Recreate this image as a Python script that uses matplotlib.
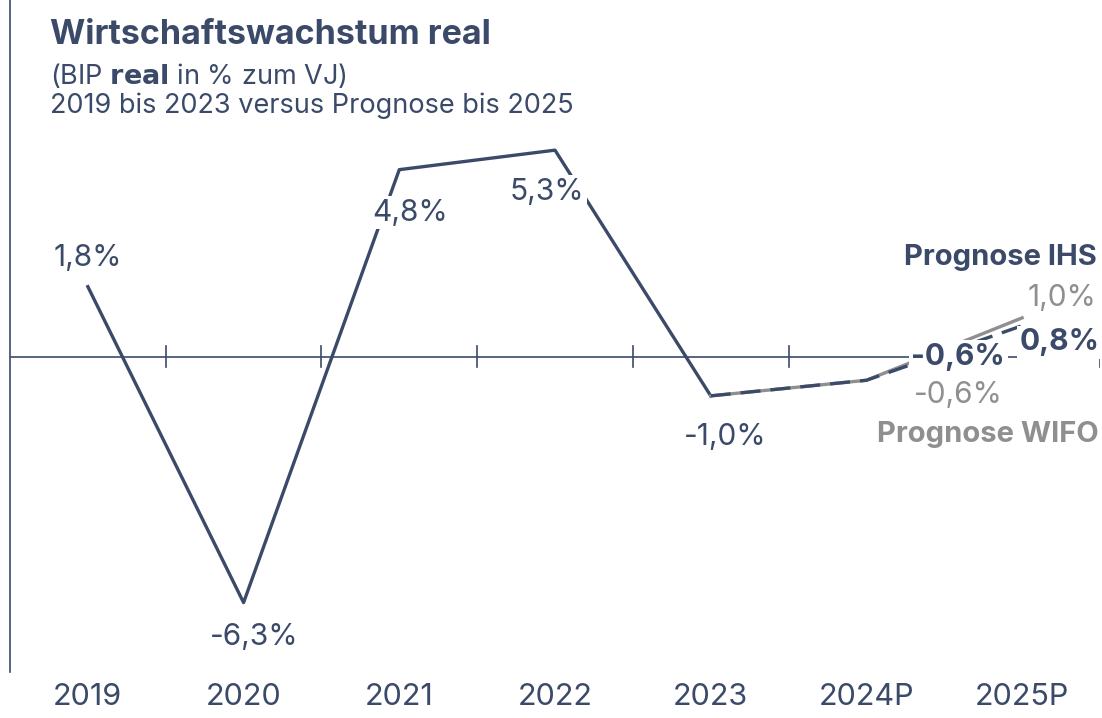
import matplotlib
matplotlib.use("Agg")
import matplotlib.pyplot as plt

plt.rcParams["font.family"] = ["Inter", "DejaVu Sans"]

# data
years = ["2019", "2020", "2021", "2022", "2023", "2024P", "2025P"]
actual = [1.8, -6.3, 4.8, 5.3, -1.0]
ihs = [-1.0, -0.6, 0.8]     # 2023 -> 2025P
wifo = [-1.0, -0.6, 1.0]

navy = "#3b4a69"
grey = "#8f8f8f"

fig = plt.figure(figsize=(11.02, 7.18), dpi=100)
ax = fig.add_axes([10 / 1102, 46 / 718, 1090 / 1102, 672 / 718])
ax.set_xlim(-0.5, 6.5)
ax.set_ylim(-8.08, 9.15)
for s in ["top", "right", "bottom"]:
    ax.spines[s].set_visible(False)
ax.spines["left"].set_color(navy)
ax.spines["left"].set_linewidth(1.2)
ax.set_xticks([])
ax.set_yticks([])

# zero line with ticks between categories
ax.axhline(0, color=navy, lw=1.2, zorder=1)
for m in [i + 0.5 for i in range(len(years))]:
    ax.plot([m, m], [-0.27, 0.27], color=navy, lw=1.2, zorder=1)

x_act = list(range(len(actual)))
x_fc = [4, 5, 6]
ax.plot(x_act, actual, color=navy, lw=2.4, zorder=2)
ax.plot(x_fc, wifo, color=grey, lw=2.4, zorder=2)
ax.plot(x_fc, ihs, color=navy, lw=2.4, ls=(0, (6, 3)), zorder=2)

# category labels
for i, y in enumerate(years):
    ax.text(i, -8.72, y, ha="center", va="center", fontsize=22, color=navy,
            clip_on=False)

fs = 21.5
box = dict(facecolor="white", edgecolor="none", pad=2)
lab = dict(fontsize=fs, color=navy, va="center", ha="center", zorder=3, bbox=box)
ax.text(0, 2.54, "1,8%", **lab)
ax.text(1.07, -7.18, "-6,3%", **lab)
ax.text(2.07, 3.7, "4,8%", **lab)
ax.text(2.95, 4.23, "5,3%", **lab)
ax.text(4.09, -2.05, "-1,0%", **lab)

ax.text(5.59, 0.0, "-0,6%", ha="center", va="center", fontsize=fs,
        color=navy, fontweight="bold", zorder=3, bbox=box)
ax.text(5.59, -0.98, "-0,6%", ha="center", va="center", fontsize=fs,
        color=grey, zorder=3, bbox=box)
ax.text(6.48, 1.5, "1,0%", ha="right", va="center", fontsize=fs,
        color=grey, zorder=3, bbox=box)
ax.text(6.5, 0.37, "0,8%", ha="right", va="center", fontsize=fs,
        color=navy, fontweight="bold", zorder=3, bbox=box)
ax.text(6.48, 2.55, "Prognose IHS", ha="right", va="center", fontsize=21,
        color=navy, fontweight="bold", zorder=3)
ax.text(6.49, -1.98, "Prognose WIFO", ha="right", va="center", fontsize=21,
        color=grey, fontweight="bold", zorder=3)

# titles
fig.text(50 / 1102, 1 - 35 / 718, "Wirtschaftswachstum real", fontsize=24.5,
         fontweight="bold", color=navy, va="center")
fig.text(50 / 1102, 1 - 76 / 718, "(BIP $\\bf{real}$ in % zum VJ)", fontsize=19.5,
         color=navy, va="center")
fig.text(50 / 1102, 1 - 106 / 718, "2019 bis 2023 versus Prognose bis 2025",
         fontsize=19.5, color=navy, va="center")

fig.savefig("out.png", dpi=100)
